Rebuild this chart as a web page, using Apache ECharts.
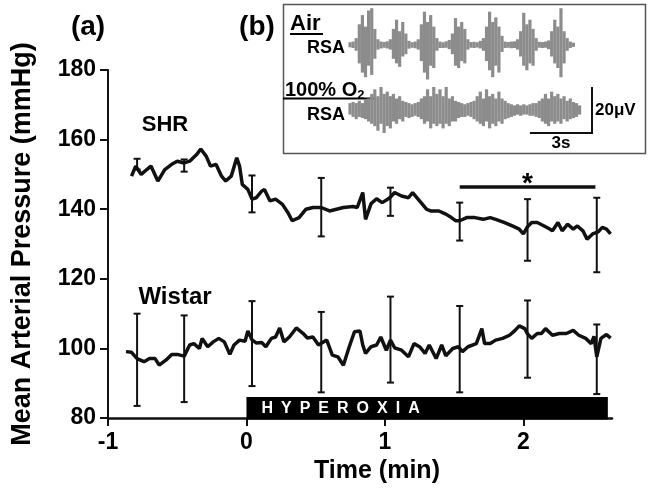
<!DOCTYPE html>
<html><head><meta charset="utf-8">
<script src="https://cdn.jsdelivr.net/npm/echarts@6/dist/echarts.min.js"></script>
<style>html,body{margin:0;padding:0;background:#fff}#c{width:648px;height:489px}</style>
</head><body><div id="c"></div>
<script>
// ---- Panel (a): mean arterial pressure ----
const shrT = [-0.83,-0.80,-0.76,-0.72,-0.69,-0.64,-0.59,-0.54,-0.50,-0.45,-0.41,-0.36,-0.33,-0.29,-0.26,-0.22,-0.18,-0.15,-0.11,-0.07,-0.05,-0.03,0.01,0.04,0.07,0.11,0.13,0.17,0.21,0.26,0.30,0.33,0.38,0.43,0.48,0.54,0.60,0.65,0.70,0.77,0.80,0.84,0.86,0.90,0.94,0.98,1.02,1.04,1.07,1.12,1.17,1.20,1.25,1.30,1.33,1.39,1.44,1.48,1.51,1.54,1.59,1.65,1.71,1.76,1.80,1.86,1.92,1.97,2.00,2.03,2.06,2.10,2.15,2.19,2.21,2.25,2.28,2.32,2.36,2.39,2.43,2.46,2.50,2.54,2.57,2.60,2.63];
const shrV = [149.5,152.4,150,151.4,152.4,148.1,151.4,152.9,153.8,153.3,153.8,155.7,157.3,155.2,152.4,152.9,149.5,148.1,149.5,154.8,152.4,147.1,145.7,142.9,143.3,145.2,145.7,142.4,142.9,141.4,139,136.7,137.6,140,140.5,140.5,139.5,140,140.5,140.8,140.5,144.8,137.1,141.6,143,141.9,142.9,143.5,144.8,143.8,143.3,144.8,142.4,140,139.5,139.5,138.6,137.6,136.7,136.7,137.6,137.6,137.1,137.6,137.1,136.2,135.2,134.3,132.9,135,136.2,136.2,135.2,134.3,133.8,136.2,133.8,135.7,134.3,135.2,133.8,131.4,132.9,133.5,134.8,134.3,132.9];
const wisT = [-0.87,-0.83,-0.79,-0.74,-0.70,-0.66,-0.63,-0.58,-0.54,-0.50,-0.45,-0.41,-0.38,-0.34,-0.32,-0.28,-0.24,-0.20,-0.16,-0.12,-0.09,-0.05,-0.01,0.01,0.04,0.07,0.11,0.14,0.18,0.21,0.24,0.27,0.31,0.36,0.41,0.44,0.48,0.52,0.54,0.58,0.62,0.66,0.70,0.74,0.78,0.82,0.84,0.86,0.90,0.94,0.97,1.01,1.04,1.07,1.12,1.17,1.21,1.25,1.29,1.32,1.37,1.41,1.44,1.49,1.53,1.56,1.60,1.66,1.70,1.72,1.76,1.80,1.85,1.90,1.94,1.97,2.01,2.03,2.06,2.10,2.13,2.16,2.21,2.26,2.31,2.36,2.40,2.45,2.49,2.51,2.53,2.56,2.60,2.63];
const wisV = [99.1,98.9,97.1,96.2,97.1,97.1,95.2,96.7,98.3,98.3,97.8,101,101.4,100,102.9,100.5,101.9,102.9,101.9,98.3,101,102.4,102.1,105,102.5,101.6,101.7,100.5,102.9,103.3,105.9,101.9,103.3,105.9,104.3,103,103.3,101,101.5,102.4,98.1,97.6,95.2,100.2,104.8,105,101,98.6,100.5,101,103.3,99.5,102.4,100.2,99.5,97.6,101.4,100.5,98.6,101,97.1,101,97.9,100,100.5,99.1,100.5,101.4,105.7,101.4,101.4,102.4,102.9,103.8,105.2,106.5,105.7,104.2,102.9,104.3,104.3,105.7,103.8,104.3,104.3,105.2,103.8,102.9,101.4,103.5,97.6,102.9,104,103];
const errT = [-0.79,-0.45,0.04,0.54,1.04,1.54,2.03,2.53];
const shrErrHi = [154.5,154.3,149.7,149,146.2,141.9,142.9,143.3];
const shrErrLo = [151.4,150.8,139.1,132.2,138.1,131,125.2,121.9];
const wisErrHi = [110,109.5,113.6,110.5,114.9,112.2,113.8,106.9];
const wisErrLo = [83.5,84.6,89.2,87.4,90.2,87.4,91.6,86.9];
const xTicks = [-1,0,1,2];
const yTicks = [80,100,120,140,160,180];
const hyperoxiaPeriod = [0, 2.61];
const hyperoxiaLabel = 'HYPEROXIA';
const sigPeriod = [1.54, 2.52];
const sigLevel = 146.4;

// ---- Panel (b): RSA traces (envelope, uV), sampled every rsaStep s ----
const rsaStep = 0.15;
const airHi = [1.2,1.5,3,9,13,8,15,16,7,2.5,1.5,1.3,1.6,2.5,7,11,6,10,5,1.8,1.2,1.5,2.5,9,14.5,10,13,8,3,1.5,1.2,1.6,2.2,5,11.7,8,10,7,2.5,1.3,1.4,1.2,1.8,3,8,14.5,10,12,8,4,1.5,1.3,1.5,1.6,2.5,6,14,9,11,7,3,1.4,1.3,1.5,2,6,11,8,16,6,3,1.5,1.0];
const airLo = [-1.0,-1.3,-2.5,-8,-12,-14,-9,-13,-6,-2,-1.5,-1.2,-1.5,-2,-6,-8,-9.5,-5,-4,-1.6,-1.2,-1.4,-2,-7,-12,-15,-9,-10,-2.5,-1.3,-1.3,-1.2,-1.8,-4,-9,-10,-7,-8,-2,-1.2,-1.3,-1.1,-1.5,-2.5,-7,-11,-14,-9,-12,-3,-1.3,-1.2,-1.4,-1.3,-2,-5,-9,-11,-8,-9,-2.5,-1.2,-1.3,-1.2,-1.8,-5,-8,-10,-14,-8,-2.5,-1.3,-0.8];
const o2Hi = [3,3.5,3,4,3,4.5,5,7,9,6,10,7,8,6,7,5,6,4,3.5,3,2.5,3,3.5,5,6,9,6,10,7,9,6,10,5,6,4,3.5,3,2.5,3,3.5,4,6,8,5,9,6,7,5,8,5,4,3,2.5,2,2.5,2,2.5,2,2.5,3,3,4,5,7,5,8,6,7,5,6,4,5,3.5,3,2];
const o2Lo = [-2,-3,-4,-3,-3.5,-4,-5,-6,-7,-9,-6,-10,-7,-8,-5,-6,-4,-5,-3,-3.5,-3,-2.5,-3,-4,-6,-5,-8,-6,-7,-6,-8,-6,-7,-5,-5,-3.5,-3,-3,-2.5,-3,-4,-5,-6,-7,-5,-8,-6,-7,-5,-6,-4,-3.5,-3,-2.5,-2,-2.5,-2,-2,-2.5,-2.5,-3,-3.5,-5,-6,-7,-5,-6,-5,-6,-4,-5,-4,-3.5,-3,-2];
const rsaSpan = 11.7;       // seconds shown
const scaleBarSec = 3;
const scaleBarUV = 20;

const FONT = '"Liberation Sans", Arial, sans-serif';
const INK = '#111';
const TRACE = '#8c8c8c';

function zip2(a, b) { return a.map((v, i) => [v, b[i]]); }

function errorBarItem(params, api) {
  const t = api.value(0), lo = api.value(1), hi = api.value(2);
  const a = api.coord([t, hi]), b = api.coord([t, lo]);
  const c = 3.5, st = { stroke: INK, lineWidth: 2 };
  return { type: 'group', children: [
    { type: 'line', shape: { x1: a[0], y1: a[1], x2: b[0], y2: b[1] }, style: st },
    { type: 'line', shape: { x1: a[0] - c, y1: a[1], x2: a[0] + c, y2: a[1] }, style: st },
    { type: 'line', shape: { x1: b[0] - c, y1: b[1], x2: b[0] + c, y2: b[1] }, style: st }
  ]};
}

function traceItem(params, api) {
  const t = api.value(0), lo = api.value(1), hi = api.value(2);
  const a = api.coord([t, hi]), b = api.coord([t, lo]);
  return { type: 'line', shape: { x1: a[0], y1: a[1], x2: b[0], y2: b[1] },
           style: { stroke: TRACE, lineWidth: 3.2 } };
}

const chart = echarts.init(document.getElementById('c'), null, { renderer: 'canvas' });
chart.setOption({
  animation: false,
  backgroundColor: '#fff',
  grid: [
    { left: 108, right: 36, top: 70, bottom: 68 },
    { left: 350, top: 3.6, width: 242, height: 82.8 },
    { left: 350, top: 68.6, width: 242, height: 82.8 }
  ],
  xAxis: [
    { type: 'value', gridIndex: 0, min: -1, max: 2.64, interval: 1,
      axisLine: { onZero: false, lineStyle: { color: INK, width: 2.5 } },
      axisTick: { length: 8, customValues: xTicks, lineStyle: { color: INK, width: 2 } },
      axisLabel: { customValues: xTicks, margin: 13, color: '#000', fontSize: 23, fontWeight: 'bold', fontFamily: FONT },
      splitLine: { show: false },
      name: 'Time (min)', nameLocation: 'middle', nameGap: 34,
      nameTextStyle: { color: '#000', fontSize: 25, fontWeight: 'bold', fontFamily: FONT, padding: [0, 0, 0, 34] } },
    { type: 'value', gridIndex: 1, min: 0, max: rsaSpan, show: false },
    { type: 'value', gridIndex: 2, min: 0, max: rsaSpan, show: false }
  ],
  yAxis: [
    { type: 'value', gridIndex: 0, min: 80, max: 180, interval: 20,
      axisLine: { show: true, onZero: false, lineStyle: { color: INK, width: 2 } },
      axisTick: { show: true, length: 8, customValues: yTicks, lineStyle: { color: INK, width: 2 } },
      axisLabel: { customValues: yTicks, margin: 12, color: '#000', fontSize: 23, fontWeight: 'bold', fontFamily: FONT },
      splitLine: { show: false },
      name: 'Mean Arterial Pressure (mmHg)', nameLocation: 'middle', nameGap: 72,
      nameTextStyle: { color: '#000', fontSize: 27, fontWeight: 'bold', fontFamily: FONT } },
    { type: 'value', gridIndex: 1, min: -18, max: 18, show: false },
    { type: 'value', gridIndex: 2, min: -18, max: 18, show: false }
  ],
  series: [
    { type: 'custom', name: 'hyperoxia', xAxisIndex: 0, yAxisIndex: 0, clip: false, z: 3,
      data: [[hyperoxiaPeriod[0], hyperoxiaPeriod[1]]],
      encode: { x: [0, 1] },
      renderItem: function (params, api) {
        const p0 = api.coord([api.value(0), 80]);
        const p1 = api.coord([api.value(1), 80]);
        const top = p0[1] - 21, bottom = p0[1] + 1.5;
        return { type: 'group', children: [
          { type: 'rect', shape: { x: p0[0], y: top, width: p1[0] - p0[0], height: bottom - top }, style: { fill: '#000' } },
          { type: 'text', style: { x: p0[0] + 15, y: (top + bottom) / 2,
              text: hyperoxiaLabel.split('').join('\u2002'), fill: '#fff',
              font: 'bold 16px ' + FONT, align: 'left', verticalAlign: 'middle' } }
        ]};
      } },
    { type: 'line', name: 'SHR', xAxisIndex: 0, yAxisIndex: 0, data: zip2(shrT, shrV),
      showSymbol: false, symbol: 'none', lineStyle: { color: INK, width: 3.5 }, z: 4 },
    { type: 'line', name: 'Wistar', xAxisIndex: 0, yAxisIndex: 0, data: zip2(wisT, wisV),
      showSymbol: false, symbol: 'none', lineStyle: { color: INK, width: 3.5 }, z: 4 },
    { type: 'custom', name: 'SHR SEM', xAxisIndex: 0, yAxisIndex: 0, z: 5,
      data: errT.map((t, i) => [t, shrErrLo[i], shrErrHi[i]]),
      encode: { x: 0, y: [1, 2] }, renderItem: errorBarItem },
    { type: 'custom', name: 'Wistar SEM', xAxisIndex: 0, yAxisIndex: 0, z: 5,
      data: errT.map((t, i) => [t, wisErrLo[i], wisErrHi[i]]),
      encode: { x: 0, y: [1, 2] }, renderItem: errorBarItem },
    { type: 'custom', name: 'significance', xAxisIndex: 0, yAxisIndex: 0, z: 5,
      data: [[sigPeriod[0], sigPeriod[1], sigLevel]],
      encode: { x: [0, 1], y: 2 },
      renderItem: function (params, api) {
        const a = api.coord([api.value(0), api.value(2)]);
        const b = api.coord([api.value(1), api.value(2)]);
        return { type: 'group', children: [
          { type: 'line', shape: { x1: a[0], y1: a[1], x2: b[0], y2: b[1] }, style: { stroke: INK, lineWidth: 3.5 } },
          { type: 'text', style: { x: (a[0] + b[0]) / 2, y: a[1] - 3, text: '*', fill: '#000',
              font: 'bold 28px ' + FONT, align: 'center', verticalAlign: 'middle' } }
        ]};
      } },
    { type: 'custom', name: 'Air RSA', xAxisIndex: 1, yAxisIndex: 1,
      data: airHi.map((h, i) => [i * rsaStep, airLo[i], h]),
      encode: { x: 0, y: [1, 2] }, renderItem: traceItem },
    { type: 'custom', name: 'O2 RSA', xAxisIndex: 2, yAxisIndex: 2,
      data: o2Hi.map((h, i) => [i * rsaStep, o2Lo[i], h]),
      encode: { x: 0, y: [1, 2] }, renderItem: traceItem },
    { type: 'custom', name: 'scale bar', xAxisIndex: 2, yAxisIndex: 2,
      data: [[rsaSpan, scaleBarSec, scaleBarUV]],
      encode: { x: 0 },
      renderItem: function (params, api) {
        const tEnd = api.value(0), sec = api.value(1), uv = api.value(2);
        const corner = api.coord([tEnd, -uv / 2]);
        const topP = api.coord([tEnd, uv / 2]);
        const leftP = api.coord([tEnd - sec, -uv / 2]);
        return { type: 'group', children: [
          { type: 'polyline', shape: { points: [leftP, corner, topP] }, style: { stroke: INK, lineWidth: 2, fill: null } },
          { type: 'text', style: { x: corner[0] + 3, y: (corner[1] + topP[1]) / 2, text: uv + 'μV', fill: '#000',
              font: 'bold 17px ' + FONT, align: 'left', verticalAlign: 'middle' } },
          { type: 'text', style: { x: (leftP[0] + corner[0]) / 2, y: corner[1] + 10, text: sec + 's', fill: '#000',
              font: 'bold 17px ' + FONT, align: 'center', verticalAlign: 'middle' } }
        ]};
      } }
  ],
  graphic: [
    { type: 'text', x: 88, y: 27, style: { text: '(a)', font: 'bold 28px ' + FONT, fill: '#000', align: 'center', verticalAlign: 'middle' } },
    { type: 'text', x: 257, y: 27, style: { text: '(b)', font: 'bold 28px ' + FONT, fill: '#000', align: 'center', verticalAlign: 'middle' } },
    { type: 'text', x: 165, y: 125, style: { text: 'SHR', font: 'bold 22px ' + FONT, fill: '#000', align: 'center', verticalAlign: 'middle' } },
    { type: 'text', x: 175, y: 297, style: { text: 'Wistar', font: 'bold 24px ' + FONT, fill: '#000', align: 'center', verticalAlign: 'middle' } },
    { type: 'rect', shape: { x: 283.5, y: 4.5, width: 362, height: 149 }, style: { fill: 'none', stroke: '#555', lineWidth: 1.5 } },
    { type: 'text', x: 290, y: 24, style: { text: 'Air', font: 'bold 22px ' + FONT, fill: '#000', align: 'left', verticalAlign: 'middle' } },
    { type: 'line', shape: { x1: 290, y1: 34, x2: 323, y2: 34 }, style: { stroke: '#000', lineWidth: 2 } },
    { type: 'text', x: 345, y: 48, style: { text: 'RSA', font: 'bold 18px ' + FONT, fill: '#000', align: 'right', verticalAlign: 'middle' } },
    { type: 'text', x: 285, y: 91, style: { text: '{m|100% O}{s|2}', fill: '#000', align: 'left', verticalAlign: 'middle',
        rich: { m: { font: 'bold 20px ' + FONT, lineHeight: 22, verticalAlign: 'top' },
                s: { font: 'bold 13px ' + FONT, lineHeight: 13, verticalAlign: 'bottom', padding: [12, 0, 0, 0] } } } },
    { type: 'line', shape: { x1: 283, y1: 98.5, x2: 374, y2: 98.5 }, style: { stroke: '#000', lineWidth: 2 } },
    { type: 'text', x: 345, y: 115, style: { text: 'RSA', font: 'bold 18px ' + FONT, fill: '#000', align: 'right', verticalAlign: 'middle' } }
  ]
});
</script>
</body></html>
